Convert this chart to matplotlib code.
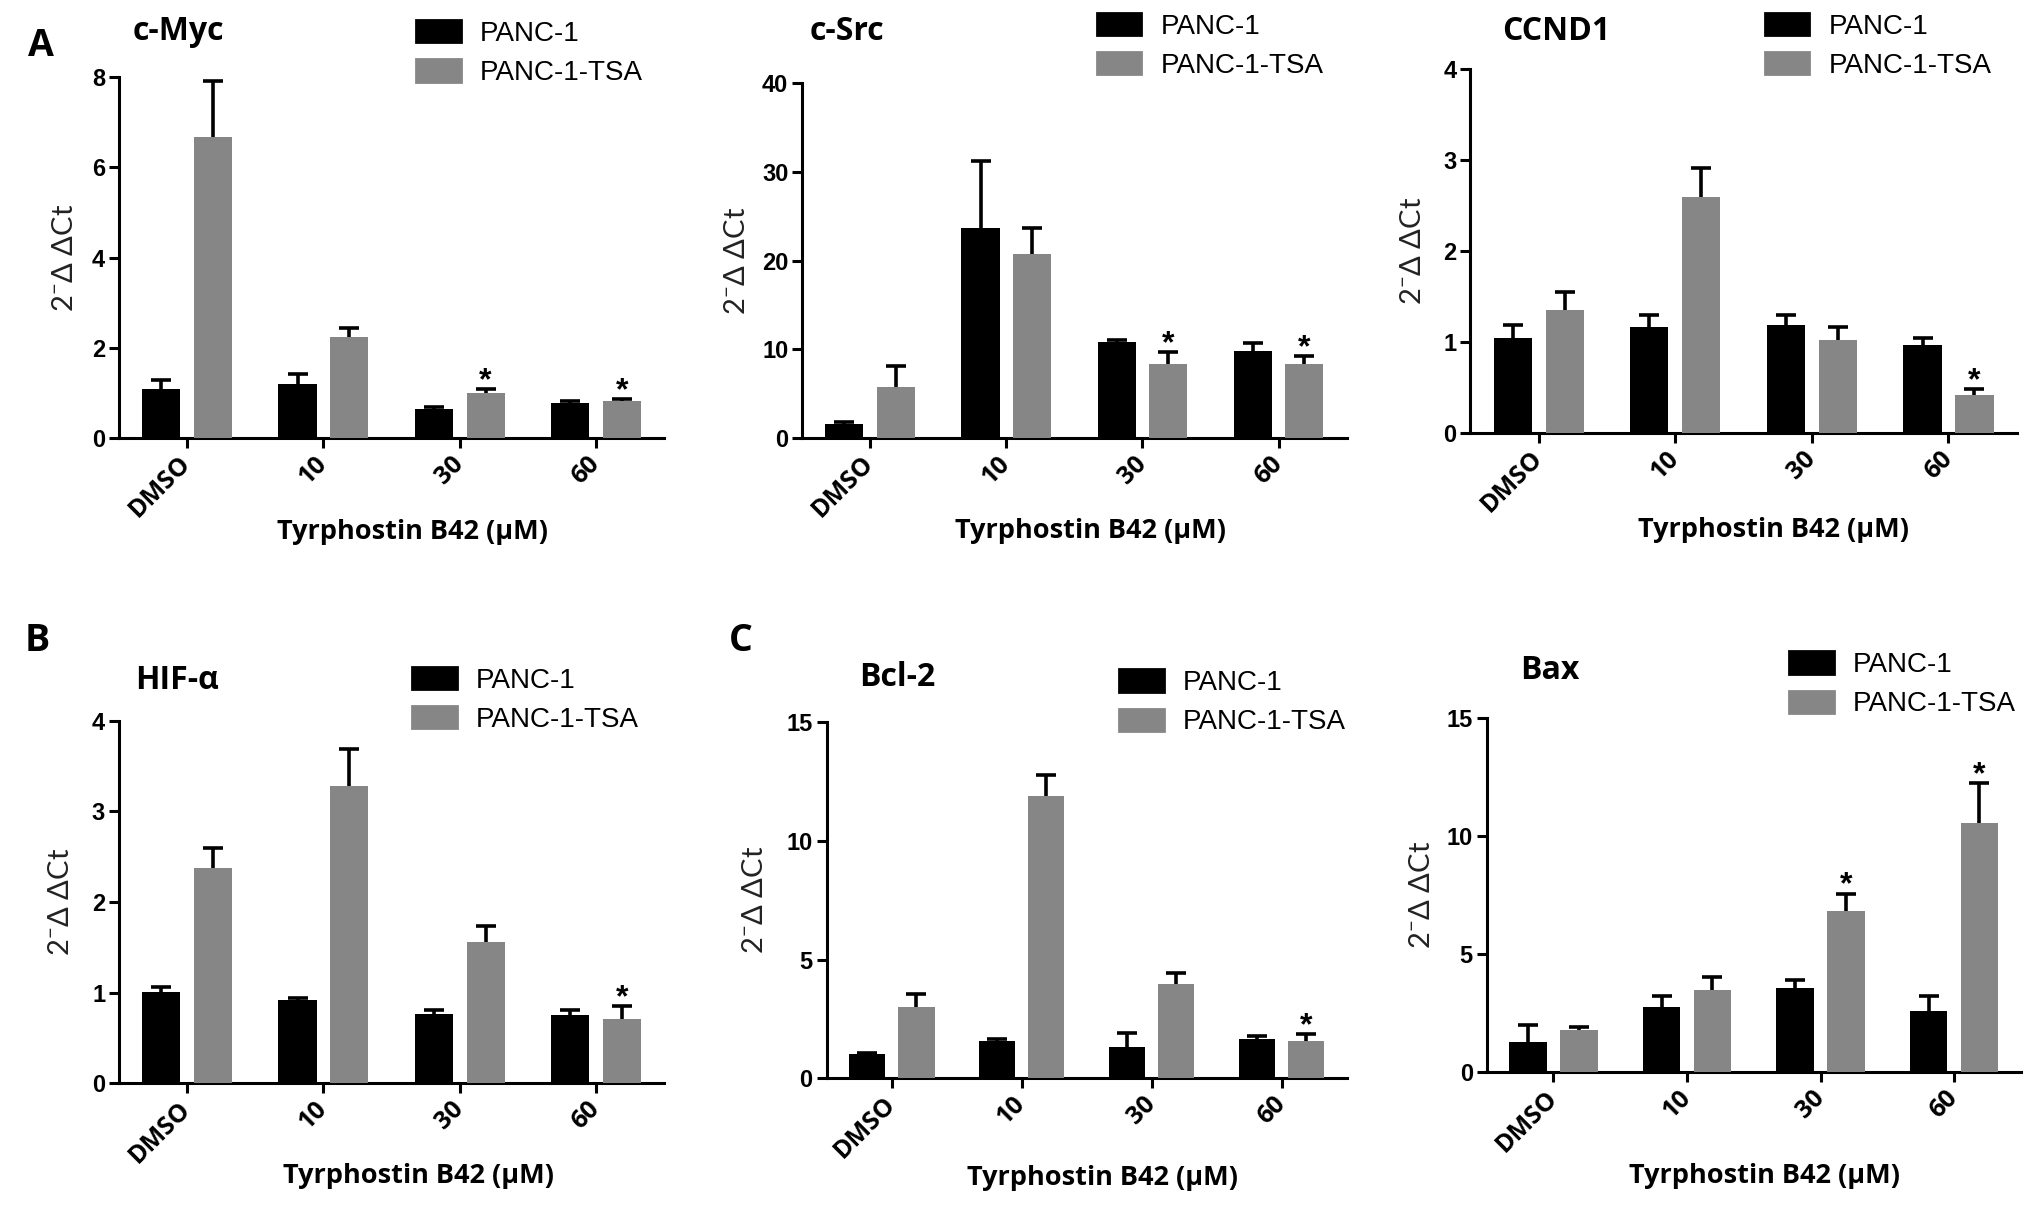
import matplotlib
matplotlib.use('Agg')
import matplotlib.pyplot as plt
from matplotlib.patches import Patch
from matplotlib.transforms import ScaledTranslation
import numpy as np

# data (mean, upper error bar)
genes = ['c-Myc', 'c-Src', 'CCND1', 'HIF-α', 'Bcl-2', 'Bax']
doses = ['DMSO', '10', '30', '60']
series = ['PANC-1', 'PANC-1-TSA']

panc1 = [
    [1.07, 1.19, 0.63, 0.77],
    [1.5, 23.7, 10.76, 9.84],
    [1.04, 1.16, 1.19, 0.97],
    [1.01, 0.92, 0.76, 0.75],
    [1.03, 1.57, 1.33, 1.66],
    [1.27, 2.76, 3.57, 2.58],
]
panc1_err = [
    [0.2, 0.23, 0.06, 0.04],
    [0.3, 7.5, 0.3, 0.85],
    [0.14, 0.13, 0.11, 0.07],
    [0.05, 0.02, 0.05, 0.06],
    [0.04, 0.07, 0.57, 0.11],
    [0.75, 0.48, 0.33, 0.66],
]
tsa = [
    [6.68, 2.24, 0.99, 0.81],
    [5.74, 20.7, 8.35, 8.27],
    [1.35, 2.59, 1.02, 0.42],
    [2.37, 3.28, 1.56, 0.71],
    [3.0, 11.89, 3.98, 1.56],
    [1.78, 3.49, 6.83, 10.56],
]
tsa_err = [
    [1.23, 0.19, 0.09, 0.05],
    [2.4, 3.0, 1.3, 0.9],
    [0.2, 0.32, 0.14, 0.06],
    [0.22, 0.41, 0.17, 0.14],
    [0.54, 0.87, 0.44, 0.3],
    [0.16, 0.57, 0.74, 1.7],
]
tsa_star = [
    [0, 0, 1, 1],
    [0, 0, 1, 1],
    [0, 0, 0, 1],
    [0, 0, 0, 1],
    [0, 0, 0, 1],
    [0, 0, 1, 1],
]
y_max = [8, 40, 4, 4, 15, 15]
y_step = [2, 10, 1, 1, 5, 5]

# layout (figure fractions)
boxes = [
    (0.0586, 0.638, 0.327, 0.936),
    (0.395, 0.638, 0.663, 0.931),
    (0.724, 0.642, 0.993, 0.943),
    (0.0586, 0.104, 0.327, 0.404),
    (0.407, 0.108, 0.663, 0.403),
    (0.732, 0.113, 0.995, 0.406),
]
title_xy = [(0.088, 0.974), (0.417, 0.974), (0.766, 0.974),
            (0.087, 0.437), (0.442, 0.440), (0.763, 0.445)]
legend_xy = [(0.205, 0.956), (0.540, 0.962), (0.869, 0.962),
             (0.203, 0.421), (0.551, 0.419), (0.881, 0.434)]
xlabel_xy = [(0.203, 0.560), (0.537, 0.561), (0.873, 0.562),
             (0.206, 0.027), (0.543, 0.026), (0.869, 0.027)]
ylabel_off = [54, 65, 57, 58, 72, 65]
letters = [('A', 0.014, 0.962), ('B', 0.012, 0.470), ('C', 0.359, 0.470)]

black = '#000000'
gray = '#868686'
calibri = ['Open Sans', 'DejaVu Sans']
arial = ['Liberation Sans', 'DejaVu Sans']

plt.rcParams['mathtext.fontset'] = 'custom'
plt.rcParams['mathtext.rm'] = 'Lato'
plt.rcParams['mathtext.default'] = 'regular'

fig = plt.figure(figsize=(20.31, 12.09), dpi=100)

x = np.arange(len(doses))
w = 0.28
off = 0.19


def draw_err(ax, xs, means, errs):
    eb = ax.errorbar(xs, means, yerr=[np.zeros(len(means)), errs], fmt='none',
                     ecolor='black', elinewidth=2.6, capsize=7, capthick=2.6, zorder=2)
    eb[1][0].set_visible(False)  # no cap at the bar top


for i in range(6):
    l, b, r, t = boxes[i]
    ax = fig.add_axes([l, b, r - l, t - b])
    ax.bar(x - off, panc1[i], width=w, color=black, zorder=3)
    ax.bar(x + off, tsa[i], width=w, color=gray, zorder=3)
    draw_err(ax, x - off, panc1[i], panc1_err[i])
    draw_err(ax, x + off, tsa[i], tsa_err[i])
    for j in range(4):
        if tsa_star[i][j]:
            ax.text(x[j] + off, tsa[i][j] + tsa_err[i][j], '*', ha='center', va='baseline',
                    fontsize=23, fontweight='bold', family=arial)

    ticks = np.arange(0, y_max[i] + 0.01, y_step[i])
    ax.set_xlim(-0.5, 3.5)
    ax.set_ylim(0, y_max[i])
    ax.set_yticks(ticks)
    ax.set_yticklabels([str(int(v)) for v in ticks], fontsize=17, fontweight='bold', family=arial)
    ax.set_xticks(x)
    ax.set_xticklabels(doses, rotation=45, ha='right', va='center', rotation_mode='anchor',
                       fontsize=18, fontweight='bold', family=calibri)
    for s in ['top', 'right']:
        ax.spines[s].set_visible(False)
    for s in ['left', 'bottom']:
        ax.spines[s].set_linewidth(2.2)
    ax.tick_params(axis='both', direction='out', length=7, width=2.2, pad=3)
    ax.tick_params(axis='x', pad=9)

    ax.text(0, 0.5, '2$^{-}$Δ ΔCt', rotation=90, ha='center', va='center',
            fontsize=21, color='#222222', family=['Lato', 'DejaVu Sans'],
            transform=ax.transAxes + ScaledTranslation(-ylabel_off[i] / 100, 0, fig.dpi_scale_trans))

    fig.text(title_xy[i][0], title_xy[i][1], genes[i], ha='center', va='center',
             fontsize=23, fontweight='bold', family=calibri)
    fig.text(xlabel_xy[i][0], xlabel_xy[i][1], 'Tyrphostin B42 (μM)', ha='center', va='center',
             fontsize=19.5, fontweight='bold', family=calibri)

    handles = [Patch(facecolor=black, edgecolor=black, linewidth=2, joinstyle='round'),
               Patch(facecolor=gray, edgecolor=gray, linewidth=2, joinstyle='round')]
    ax.legend(handles, series, loc='center left', bbox_to_anchor=legend_xy[i],
              bbox_transform=fig.transFigure, frameon=False, borderpad=0, borderaxespad=0,
              handlelength=1.6, handleheight=0.85, handletextpad=0.7, labelspacing=0.45,
              prop={'family': arial, 'size': 20})

for lab, lx, ly in letters:
    fig.text(lx, ly, lab, ha='left', va='center', fontsize=27, fontweight='bold', family=calibri)

fig.savefig('out.png', dpi=100)
